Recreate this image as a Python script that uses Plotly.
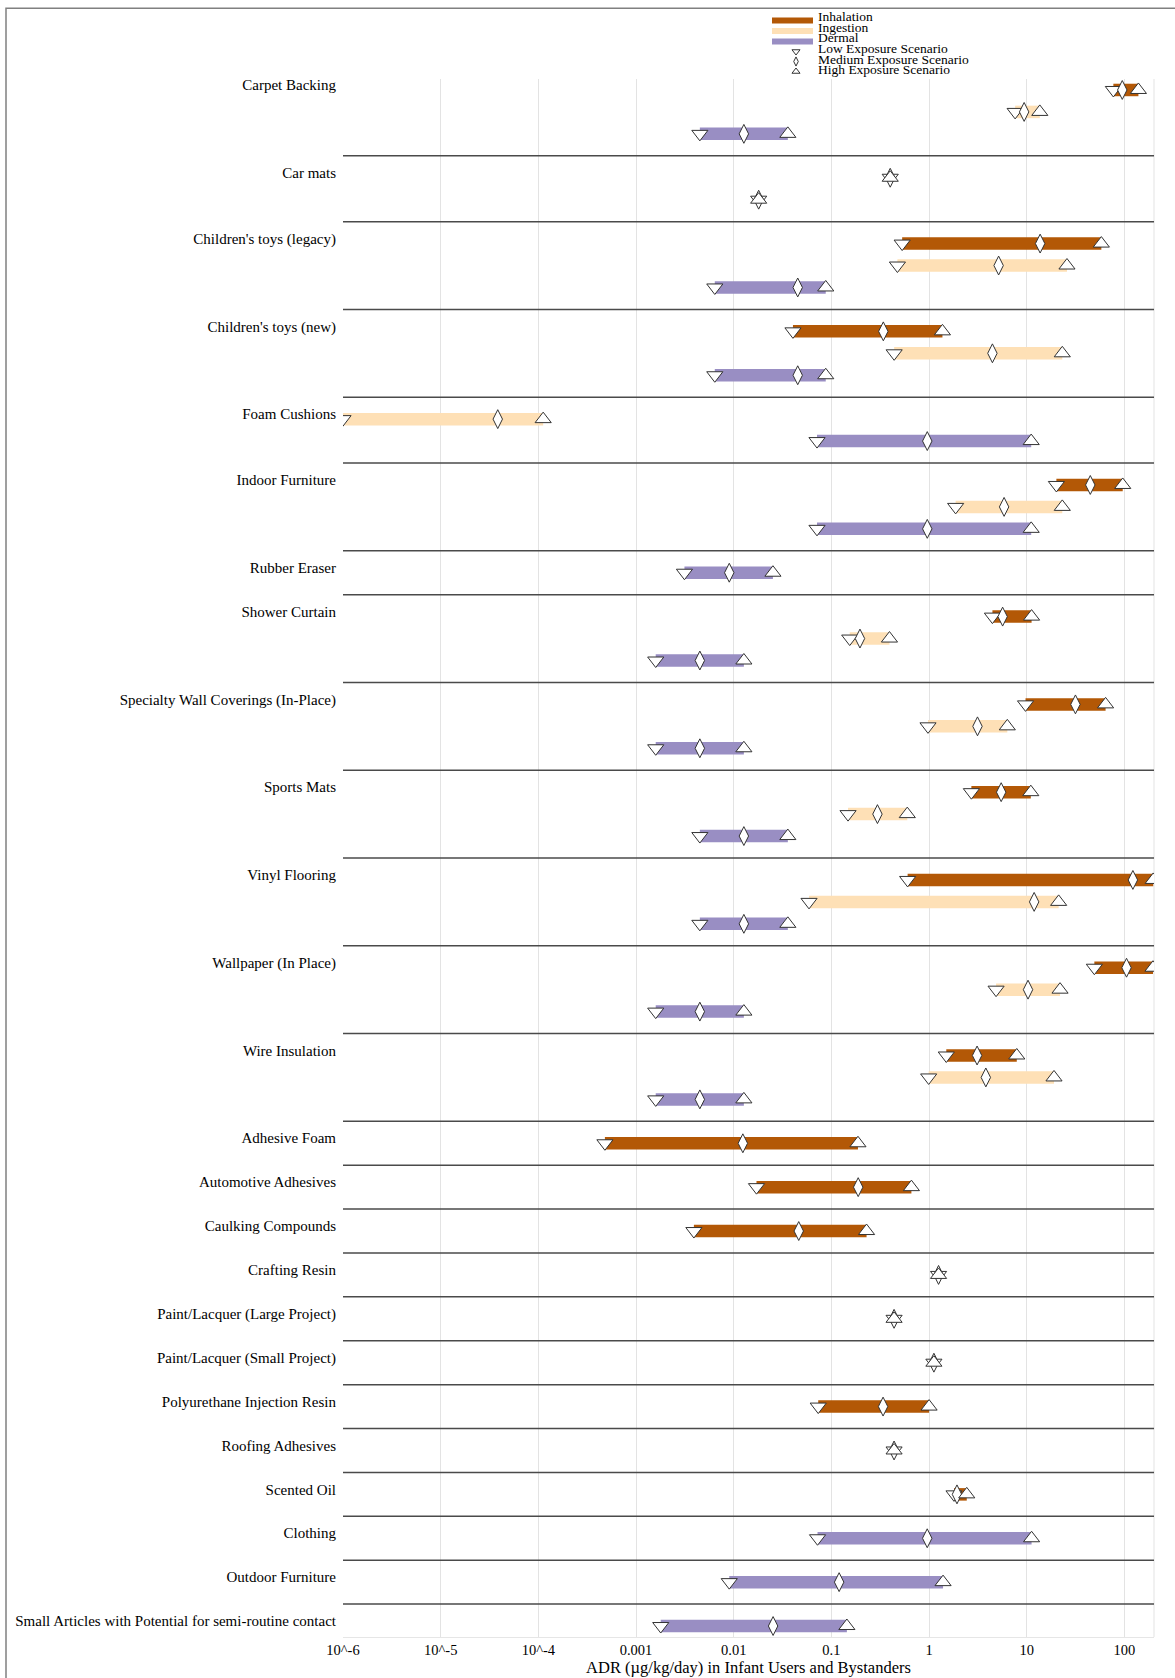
import plotly.graph_objects as go

# ---------------- data ----------------
row_category = [
    "Carpet Backing", "Carpet Backing", "Carpet Backing",
    "Car mats", "Car mats",
    "Children's toys (legacy)", "Children's toys (legacy)", "Children's toys (legacy)",
    "Children's toys (new)", "Children's toys (new)", "Children's toys (new)",
    "Foam Cushions", "Foam Cushions",
    "Indoor Furniture", "Indoor Furniture", "Indoor Furniture",
    "Rubber Eraser",
    "Shower Curtain", "Shower Curtain", "Shower Curtain",
    "Specialty Wall Coverings (In-Place)", "Specialty Wall Coverings (In-Place)", "Specialty Wall Coverings (In-Place)",
    "Sports Mats", "Sports Mats", "Sports Mats",
    "Vinyl Flooring", "Vinyl Flooring", "Vinyl Flooring",
    "Wallpaper (In Place)", "Wallpaper (In Place)", "Wallpaper (In Place)",
    "Wire Insulation", "Wire Insulation", "Wire Insulation",
    "Adhesive Foam",
    "Automotive Adhesives",
    "Caulking Compounds",
    "Crafting Resin",
    "Paint/Lacquer (Large Project)",
    "Paint/Lacquer (Small Project)",
    "Polyurethane Injection Resin",
    "Roofing Adhesives",
    "Scented Oil",
    "Clothing",
    "Outdoor Furniture",
    "Small Articles with Potential for semi-routine contact",
]
row_pathway = [
    "Inhalation", "Ingestion", "Dermal",
    "Ingestion", "Dermal",
    "Inhalation", "Ingestion", "Dermal",
    "Inhalation", "Ingestion", "Dermal",
    "Ingestion", "Dermal",
    "Inhalation", "Ingestion", "Dermal",
    "Dermal",
    "Inhalation", "Ingestion", "Dermal",
    "Inhalation", "Ingestion", "Dermal",
    "Inhalation", "Ingestion", "Dermal",
    "Inhalation", "Ingestion", "Dermal",
    "Inhalation", "Ingestion", "Dermal",
    "Inhalation", "Ingestion", "Dermal",
    "Inhalation", "Inhalation", "Inhalation", "Inhalation", "Inhalation",
    "Inhalation", "Inhalation", "Inhalation", "Inhalation",
    "Dermal", "Dermal", "Dermal",
]
low = [
    77, 7.6, 0.0045,
    0.40, 0.018,
    0.53, 0.474, 0.0064,
    0.0404, 0.439, 0.0064,
    1.0e-6, 0.0712,
    20.1, 1.87, 0.0712,
    0.00313,
    4.45, 0.154, 0.00159,
    9.71, 0.975, 0.00159,
    2.71, 0.148, 0.0045,
    0.603, 0.059, 0.0045,
    49.2, 4.85, 0.00159,
    1.50, 0.99, 0.00159,
    0.00048, 0.0171, 0.00391, 1.25, 0.438, 1.12, 0.0733, 0.438, 1.80,
    0.0721, 0.009, 0.00179,
]
medium = [
    95, 9.4, 0.0127,
    0.40, 0.018,
    13.7, 5.15, 0.0452,
    0.34, 4.45, 0.0452,
    3.84e-5, 0.958,
    44.7, 5.86, 0.958,
    0.009,
    5.66, 0.196, 0.0045,
    31.5, 3.13, 0.0045,
    5.47, 0.296, 0.0127,
    122, 11.9, 0.0127,
    105, 10.3, 0.0045,
    3.10, 3.81, 0.0045,
    0.0124, 0.188, 0.0463, 1.25, 0.438, 1.12, 0.338, 0.438, 1.93,
    0.957, 0.12, 0.0253,
]
high = [
    139, 13.6, 0.0358,
    0.40, 0.018,
    58, 25.8, 0.0875,
    1.37, 23.1, 0.0875,
    1.12e-4, 11.1,
    96, 23.1, 11.1,
    0.0252,
    11.2, 0.393, 0.0127,
    64.1, 6.32, 0.0127,
    11.0, 0.598, 0.0358,
    197, 21.2, 0.0358,
    196, 21.9, 0.0127,
    7.9, 19.0, 0.0127,
    0.187, 0.659, 0.229, 1.25, 0.438, 1.12, 1.0, 0.438, 2.43,
    11.2, 1.39, 0.144,
]

pathways = ["Inhalation", "Ingestion", "Dermal"]
pathway_colors = {"Inhalation": "#B35806", "Ingestion": "#FEE0B6", "Dermal": "#998EC3"}
scenario_names = ["Low Exposure Scenario", "Medium Exposure Scenario", "High Exposure Scenario"]
tick_vals = [1e-6, 1e-5, 1e-4, 1e-3, 1e-2, 1e-1, 1, 10, 100]
tick_text = ["10^-6", "10^-5", "10^-4", "0.001", "0.01", "0.1", "1", "10", "100"]
x_title = "ADR (µg/kg/day) in Infant Users and Bystanders"

# ---------------- row positions (one blank slot between groups) ----------------
row_y = []
group_first = []
pos = 0
prev = None
for cat in row_category:
    if prev is not None and cat != prev:
        pos += 1
    if cat != prev:
        group_first.append((cat, pos))
    row_y.append(pos)
    pos += 1
    prev = cat
y_max = row_y[-1]

FONT = "Liberation Serif, Times New Roman, serif"
W, H = 1175, 1678
ML, MR, MT, MB = 343, 21, 5, 41
plot_top_px = 79
plot_bottom_px = H - MB
main_top = (plot_bottom_px - plot_top_px) / (plot_bottom_px - MT)

fig = go.Figure()

# bars
for pw in pathways:
    xs, ys = [], []
    for c, p, lo, hi, y in zip(row_category, row_pathway, low, high, row_y):
        if p == pw:
            xs += [lo, hi, None]
            ys += [y, y, None]
    fig.add_trace(go.Scatter(x=xs, y=ys, mode="lines",
                             line=dict(color=pathway_colors[pw], width=12.5),
                             hoverinfo="skip", showlegend=False))

marker_line = dict(color="#333333", width=1)
for vals, sym, sz in [(low, "triangle-down", 14), (medium, "diamond-tall", 13.5), (high, "triangle-up", 14)]:
    fig.add_trace(go.Scatter(x=vals, y=row_y, mode="markers",
                             marker=dict(symbol=sym, size=sz, color="white", line=marker_line),
                             showlegend=False))

# separators between groups
shapes = []
for cat, first in group_first[1:]:
    shapes.append(dict(type="line", xref="paper", yref="y", x0=0, x1=1, y0=first - 1, y1=first - 1,
                       line=dict(color="#4a4a4a", width=1.5), layer="above"))
# right edge light line
shapes.append(dict(type="line", xref="paper", yref="paper", x0=1, x1=1, y0=0, y1=main_top,
                   line=dict(color="#e3e3e3", width=1), layer="below"))
# outer frame (top/left visible)
plot_w = W - ML - MR
plot_h_all = plot_bottom_px - MT
shapes.append(dict(type="rect", xref="paper", yref="paper",
                   x0=(6 - ML) / plot_w, x1=3, y0=-3, y1=(plot_bottom_px - 8.3) / plot_h_all,
                   line=dict(color="#808080", width=1.5), fillcolor="rgba(0,0,0,0)"))

# ---------------- custom compact legend on an overlay axis (pixel coords) ----------------
sw_x0, sw_x1 = 772, 813
txt_x = 816
sym_x = 796
sw_y = [20.5, 31, 41.5]
txt_y = [16.5, 27, 37.5, 48.5, 59, 69.5]
sym_y = [51.5, 61.5, 71.5]
for pw, yy in zip(pathways, sw_y):
    fig.add_trace(go.Scatter(x=[sw_x0, sw_x1], y=[yy, yy], mode="lines", xaxis="x2", yaxis="y2",
                             line=dict(color=pathway_colors[pw], width=6), hoverinfo="skip", showlegend=False))
for sym, yy, sz in zip(["triangle-down", "diamond-tall", "triangle-up"], sym_y, [7, 6.5, 7]):
    fig.add_trace(go.Scatter(x=[sym_x], y=[yy], mode="markers", xaxis="x2", yaxis="y2",
                             marker=dict(symbol=sym, size=sz, color="white", line=dict(color="#333", width=1)),
                             hoverinfo="skip", showlegend=False))
annotations = []
for label, yy in zip(pathways + scenario_names, txt_y):
    annotations.append(dict(x=txt_x, y=yy, xref="x2", yref="y2", text=label, showarrow=False,
                            xanchor="left", yanchor="middle",
                            font=dict(family=FONT, size=13.5, color="black")))

fig.update_layout(
    width=W, height=H,
    margin=dict(l=ML, r=MR, t=MT, b=MB, autoexpand=False),
    paper_bgcolor="white", plot_bgcolor="white",
    showlegend=False,
    font=dict(family=FONT, size=15, color="black"),
    xaxis=dict(type="log", range=[-6, 2.3025], tickvals=tick_vals, ticktext=tick_text,
               showgrid=True, gridcolor="#e3e3e3", gridwidth=1, showline=True, linecolor="#e6e6e6",
               ticks="", zeroline=False, tickfont=dict(family=FONT, size=14.5, color="black"),
               title=dict(text=x_title, font=dict(family=FONT, size=16.5, color="black"), standoff=3),
               domain=[0, 1], anchor="y"),
    yaxis=dict(range=[y_max + 0.5, -0.5], domain=[0, main_top], showgrid=False, zeroline=False,
               tickvals=[p - 0.23 for c, p in group_first], ticktext=[c for c, p in group_first],
               ticks="", ticklabelstandoff=6, tickfont=dict(family=FONT, size=15, color="black"),
               anchor="x"),
    xaxis2=dict(domain=[0, 1], range=[ML, W - MR], anchor="y2", visible=False, fixedrange=True),
    yaxis2=dict(domain=[main_top, 1], range=[plot_top_px, MT], anchor="x2", visible=False, fixedrange=True),
    shapes=shapes,
    annotations=annotations,
)

fig.write_html("out.html")
